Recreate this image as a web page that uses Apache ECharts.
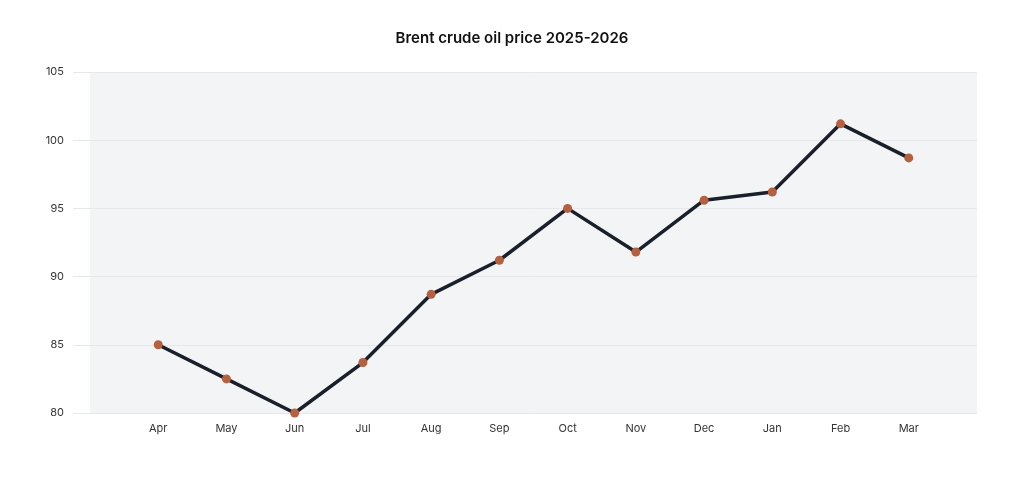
<!DOCTYPE html>
<html>
<head>
<meta charset="utf-8">
<script src="https://cdn.jsdelivr.net/npm/echarts@6/dist/echarts.min.js"></script>
<style>html,body{margin:0;padding:0;background:#fff}#c{width:1024px;height:488px}</style>
</head>
<body>
<div id="c"></div>
<script>
const months = ['Apr','May','Jun','Jul','Aug','Sep','Oct','Nov','Dec','Jan','Feb','Mar'];
const prices = [85.0, 82.5, 80.0, 83.7, 88.7, 91.2, 95.0, 91.8, 95.6, 96.2, 101.2, 98.7];
const yTicks = [80, 85, 90, 95, 100, 105];

const cats = [''].concat(months, ['']);
const vals = [null].concat(prices, [null]);

const chart = echarts.init(document.getElementById('c'));
chart.setOption({
  animation: false,
  title: {
    text: 'Brent crude oil price 2025-2026',
    left: 'center',
    top: 26,
    textStyle: { fontFamily: 'Inter', fontWeight: 600, fontSize: 15, color: '#111' }
  },
  grid: {
    left: 90, right: 47, top: 72, bottom: 75,
    show: true, backgroundColor: '#f3f4f6', borderWidth: 0
  },
  xAxis: {
    type: 'category',
    data: cats,
    boundaryGap: false,
    axisLine: { show: false },
    axisTick: { show: false },
    splitLine: { show: false },
    axisLabel: { fontFamily: 'Inter', fontSize: 11, color: '#333', margin: 10 }
  },
  yAxis: {
    type: 'value',
    min: yTicks[0],
    max: yTicks[yTicks.length - 1],
    interval: 5,
    axisLine: { show: false },
    axisTick: { show: true, length: 17, lineStyle: { color: '#e6e7ea', width: 1 } },
    splitLine: { show: true, lineStyle: { color: '#e6e7ea', width: 1 } },
    axisLabel: { fontFamily: 'Inter', fontSize: 11, color: '#333', margin: 26 }
  },
  series: [{
    type: 'line',
    data: vals,
    connectNulls: false,
    symbol: 'circle',
    symbolSize: 9,
    lineStyle: { color: '#1a1f2c', width: 3.5 },
    itemStyle: { color: '#b5603f', borderWidth: 0 }
  }]
});
</script>
</body>
</html>
